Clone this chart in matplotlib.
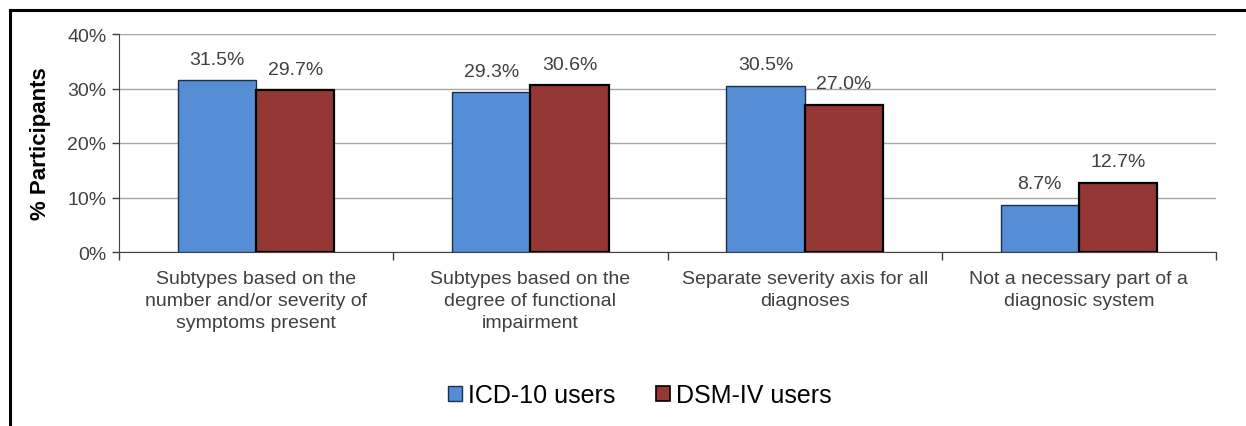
import numpy as np
import matplotlib
matplotlib.use("Agg")
import matplotlib.pyplot as plt
from matplotlib.patches import Patch
from matplotlib.lines import Line2D

categories = ["Subtypes based on the\nnumber and/or severity of\nsymptoms present",
              "Subtypes based on the\ndegree of functional\nimpairment",
              "Separate severity axis for all\ndiagnoses",
              "Not a necessary part of a\ndiagnosic system"]
icd10 = [31.5, 29.3, 30.5, 8.7]
dsm4 = [29.7, 30.6, 27.0, 12.7]
series_names = ["ICD-10 users", "DSM-IV users"]
yticks = [0, 10, 20, 30, 40]

blue = "#558ED5"
red = "#953735"
txt = "#404040"

plt.rcParams['font.family'] = ['Liberation Sans', 'DejaVu Sans']

fig = plt.figure(figsize=(12.46, 4.27), dpi=100)
ax = fig.add_axes([119/1246, 1 - 253/427, 1097/1246, 218/427])

x = np.arange(len(categories))
w = 0.285
b1 = ax.bar(x - w/2, icd10, w, color=blue, edgecolor="#1f2f4a", linewidth=1.0, zorder=3)
b2 = ax.bar(x + w/2, dsm4, w, color=red, edgecolor="black", linewidth=1.6, zorder=3)

for bars, vals in [(b1, icd10), (b2, dsm4)]:
    for r, v in zip(bars, vals):
        ax.annotate(f"{v:.1f}%", (r.get_x() + r.get_width()/2, v), xytext=(0, 9),
                    textcoords="offset points", ha="center", va="bottom",
                    fontsize=14, color=txt)

ax.set_xlim(-0.5, len(categories) - 0.5)
ax.set_ylim(0, 40)
ax.set_yticks(yticks)
ax.set_yticklabels([f"{t}%" for t in yticks], fontsize=14, color=txt)
ax.yaxis.grid(True, color="#a6a6a6", linewidth=1.0, zorder=0)
ax.tick_params(axis="y", length=5, color="#404040", width=1, pad=4)

# category labels between separator ticks
ax.set_xticks(x)
ax.set_xticklabels(categories, fontsize=14, color=txt, linespacing=1.38)
ax.tick_params(axis="x", length=0, pad=13)
ax.set_xticks(np.arange(len(categories) + 1) - 0.5, minor=True)
ax.tick_params(axis="x", which="minor", length=6, color="#404040", width=1)

for s in ["top", "right"]:
    ax.spines[s].set_visible(False)
ax.spines["left"].set_color("#404040")
ax.spines["bottom"].set_color("#404040")

ax.set_ylabel("% Participants", fontsize=16, fontweight="bold", color="black", labelpad=12)

handles = [Patch(facecolor=blue, edgecolor="#1f2f4a", linewidth=1.0),
           Patch(facecolor=red, edgecolor="black", linewidth=1.2)]
fig.legend(handles, series_names, loc="center", bbox_to_anchor=(640/1246, 1 - 396/427),
           ncol=2, frameon=False, fontsize=18, handlelength=0.55, handleheight=0.55,
           handletextpad=0.25, columnspacing=1.6)

# outer frame (top and left edges visible)
fig.add_artist(Line2D([10/1246, 1], [1 - 11/427, 1 - 11/427], color="black", linewidth=2.2,
                      transform=fig.transFigure))
fig.add_artist(Line2D([10/1246, 10/1246], [0, 1 - 11/427], color="black", linewidth=2.2,
                      transform=fig.transFigure))

fig.savefig("out.png", dpi=100)
